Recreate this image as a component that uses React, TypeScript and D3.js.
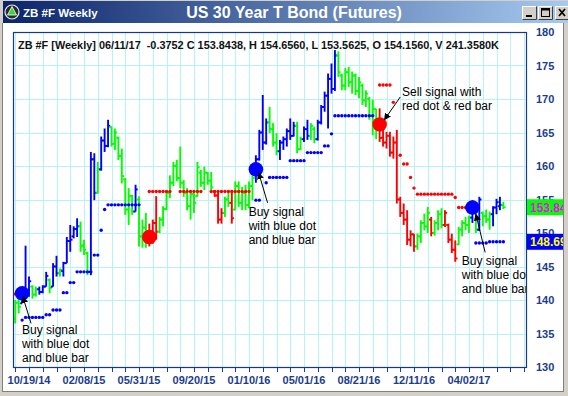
import React, { useEffect, useRef } from 'react';
import * as d3 from 'd3';

// weekly bars, first week 09/21/14, last week 06/11/17
const firstWeek = new Date(Date.UTC(2014, 8, 21));
const lastWeek = new Date(Date.UTC(2017, 5, 11));

const opens = [
  137.2, 139.6, 139.5, 141.2, 141.5, 142.0, 140.8, 141.6, 141.2, 142.0,
  143.0, 142.0, 145.0, 144.0, 144.3, 145.5, 148.8, 149.5, 150.6, 151.0,
  148.2, 147.0, 144.2, 161.0, 156.0, 159.5, 163.8, 163.0, 165.8, 163.3,
  164.2, 161.5, 158.0, 153.5, 155.5, 153.2, 155.0, 149.5, 150.8, 148.5,
  149.5, 151.5, 150.2, 152.0, 153.6, 156.0, 157.5, 160.0, 158.2, 157.5,
  156.0, 154.0, 155.8, 155.5, 159.0, 157.5, 159.0, 157.8, 156.2, 155.6,
  152.0, 153.0, 155.0, 154.5, 153.5, 157.0, 154.5, 156.0, 154.2, 157.0,
  158.9, 161.0, 165.0, 163.5, 166.5, 165.5, 163.5, 162.2, 163.5, 164.0,
  165.2, 164.5, 166.0, 162.5, 164.0, 165.5, 164.5, 165.5, 164.0, 166.5,
  168.8, 170.5, 173.0, 171.5, 176.5, 173.5, 172.0, 174.0, 172.5, 173.5,
  171.2, 172.0, 169.8, 170.0, 167.5, 168.5, 166.0, 164.2, 163.5, 164.5,
  162.0, 163.5, 155.0, 153.0, 152.0, 149.0, 149.8, 148.0, 149.5, 151.5,
  151.0, 152.0, 150.0, 151.5, 152.8, 151.2, 151.2, 149.0, 147.5, 148.3,
  150.5, 151.5, 151.2, 152.3, 153.2, 150.5, 153.0, 152.5, 152.0, 152.8,
  153.8, 154.0, 154.156,
];
const highs = [
  140.0, 140.5, 141.7, 148.1, 143.5, 142.2, 142.0, 142.0, 142.2, 144.2,
  143.2, 145.5, 146.6, 144.7, 145.7, 149.4, 151.2, 151.0, 152.2, 151.7,
  149.0, 147.2, 162.1, 161.9, 160.6, 164.4, 165.6, 166.9, 165.9, 165.6,
  164.4, 162.6, 158.2, 156.7, 155.7, 157.2, 155.5, 152.0, 153.0, 151.4,
  152.0, 155.5, 152.4, 154.0, 156.4, 158.6, 160.6, 160.9, 162.9, 157.9,
  156.7, 156.4, 155.9, 160.6, 159.4, 159.9, 159.1, 159.1, 156.4, 156.4,
  153.7, 155.4, 156.4, 156.4, 157.7, 157.7, 156.9, 157.2, 157.7, 158.6,
  161.6, 165.4, 170.6, 167.1, 168.8, 166.4, 164.9, 163.9, 164.4, 165.6,
  167.1, 166.6, 166.6, 164.4, 165.9, 166.9, 166.4, 165.9, 166.9, 169.1,
  171.1, 173.8, 175.3, 177.3, 177.1, 173.8, 174.6, 174.8, 174.1, 173.8,
  173.3, 172.3, 171.3, 170.3, 169.9, 168.5, 168.6, 165.4, 165.1, 165.1,
  164.4, 165.4, 155.4, 154.4, 153.4, 150.4, 149.9, 149.9, 151.9, 152.9,
  153.9, 152.4, 151.9, 153.4, 153.7, 153.4, 151.4, 149.9, 148.9, 150.9,
  151.9, 152.4, 152.6, 154.9, 153.5, 155.4, 153.2, 153.5, 153.2, 154.0,
  155.1, 155.4, 154.656,
];
const lows = [
  136.5, 138.0, 139.5, 140.2, 140.5, 140.2, 140.5, 140.8, 141.0, 142.0,
  141.0, 142.0, 143.5, 143.5, 143.5, 145.5, 147.2, 149.2, 149.4, 147.2,
  146.7, 143.7, 143.7, 154.9, 155.9, 159.3, 162.1, 162.8, 162.9, 162.4,
  160.9, 157.4, 152.7, 151.2, 152.7, 153.2, 148.0, 147.8, 147.8, 148.0,
  148.4, 149.0, 150.0, 151.0, 153.4, 155.2, 157.0, 157.7, 156.7, 155.4,
  153.4, 152.0, 153.0, 155.4, 156.9, 156.4, 157.2, 156.4, 155.4, 151.4,
  151.4, 152.4, 153.9, 151.4, 153.4, 153.9, 153.4, 153.4, 153.7, 154.9,
  157.5, 160.8, 162.4, 163.2, 164.9, 162.9, 161.6, 160.9, 162.4, 162.9,
  163.9, 164.4, 161.9, 162.4, 163.6, 163.9, 163.9, 163.4, 163.8, 166.2,
  168.1, 165.6, 170.8, 171.2, 173.3, 171.3, 171.3, 171.8, 170.8, 170.6,
  170.1, 169.1, 168.8, 166.9, 164.6, 164.0, 163.6, 162.9, 162.6, 161.4,
  161.1, 154.4, 152.4, 151.2, 148.2, 148.0, 147.2, 147.5, 148.5, 150.4,
  150.0, 149.5, 149.6, 150.4, 150.7, 150.9, 148.5, 147.0, 145.7, 148.2,
  149.5, 150.4, 150.0, 151.5, 150.0, 150.3, 151.0, 151.5, 150.5, 151.0,
  152.8, 153.4, 153.5625,
];
const closes = [
  139.6, 139.0, 141.2, 141.5, 142.8, 140.8, 141.6, 141.2, 142.0, 143.6,
  141.8, 145.0, 144.0, 144.5, 145.5, 148.8, 149.0, 150.6, 151.0, 148.0,
  147.5, 144.2, 161.0, 156.0, 159.5, 163.8, 163.0, 166.0, 163.3, 165.0,
  161.5, 158.5, 153.5, 155.5, 153.2, 156.5, 149.5, 150.8, 148.5, 149.5,
  151.5, 150.2, 152.0, 153.6, 156.0, 157.5, 160.0, 158.2, 157.5, 156.0,
  154.0, 155.8, 154.5, 159.8, 157.5, 159.0, 157.8, 156.8, 155.6, 152.0,
  153.0, 155.0, 154.5, 152.2, 157.0, 154.5, 156.0, 154.2, 157.0, 158.2,
  161.0, 165.0, 163.5, 166.5, 165.5, 163.5, 162.2, 163.5, 164.0, 165.2,
  164.5, 166.0, 162.5, 164.0, 165.5, 164.5, 166.0, 164.0, 166.5, 168.8,
  170.5, 173.0, 171.5, 176.5, 174.0, 172.0, 174.0, 172.5, 173.5, 171.2,
  172.5, 169.8, 170.8, 167.5, 168.5, 166.0, 164.2, 163.5, 164.5, 162.0,
  163.5, 155.0, 153.0, 152.0, 149.0, 149.8, 148.0, 149.5, 151.5, 151.0,
  153.0, 150.0, 151.5, 152.8, 151.2, 153.0, 149.0, 147.5, 146.2, 150.5,
  151.5, 151.2, 152.3, 154.5, 150.5, 155.0, 152.5, 152.0, 152.8, 153.8,
  154.6, 154.2, 153.8438,
];
// g = green, b = blue, r = red
const barColors = (
  'ggbbbggbbb' + 'gbbgbbbbbg' + 'ggbbgbbbgg' + 'gggggbgggr' + 'rrgggggggg' +
  'ggggggggrr' + 'rggrgggggg' + 'bbbbgggbbb' + 'bbggbbggbb' + 'bbbbgggggg' +
  'ggggggrrrr' + 'rrrrrrrggg' + 'grgggrrrrg' + 'gggbgbgggb' + 'bbg'
).split('');

// trailing stop dots
const stopValues = [
  140.9, null, 137.0, 137.4, 137.4, 137.4, 137.4, 137.4, 137.4, 137.8,
  137.8, 138.5, 138.5, 138.5, 141.1, 141.1, 142.6, 142.6, 144.2, 144.2,
  144.2, 144.2, 144.2, 146.7, 146.7, 150.4, 153.5, 154.2, 154.2, 154.2,
  154.2, 154.2, 154.2, 154.2, 154.2, 154.2, 154.2, null, null, 156.2,
  156.2, 156.2, 156.2, 156.2, 156.2, 156.2, null, null, 156.2, 156.2,
  156.2, 156.2, 156.2, 156.2, 156.2, null, null, 156.2, 156.2, 156.2,
  156.2, 156.2, 156.2, 156.2, 156.2, 156.2, 156.2, 156.2, 156.2, null,
  154.9, 154.9, null, 157.5, 158.3, 158.3, 158.3, 158.3, 158.3, 158.3,
  160.8, 160.8, 160.8, 160.8, 160.8, 162.0, 162.0, 162.0, 162.0, 162.0,
  163.0, 163.0, 164.8, 167.5, 167.5, 167.5, 167.5, 167.5, 167.5, 167.5,
  167.5, 167.5, 167.5, 167.5, 167.5, null, 172.1, 172.1, 172.1, 172.1,
  169.5, null, 161.6, 160.3, 160.3, 158.3, 156.7, 155.8, 155.8, 155.8,
  155.8, 155.8, 155.8, 155.8, 155.8, 155.8, 155.8, 155.8, 155.3, 153.8,
  153.8, 153.8, 153.8, null, 148.5, 148.5, 148.5, 148.5, 148.69, 148.69,
  148.69, 148.69, 148.69,
];
const stopColors = (
  'rbbbbbbbbb' + 'bbbbbbbbbb' + 'bbbbbbbbbb' + 'bbbbbbbbbr' + 'rrrrrrrrrr' +
  'rrrrrrrrrr' + 'rrrrrrrrrr' + 'bbbbbbbbbb' + 'bbbbbbbbbb' + 'bbbbbbbbbb' +
  'bbbbbrrrrr' + 'rrrrrrrrrr' + 'rrrrrrrrrr' + 'rrrbbbbbbb' + 'bbb'
).split('');

// big signal dots: bar index and price
const signalBars = [2, 39, 70, 106, 133];
const signalPrices = [141.0, 149.4, 159.5, 166.2, 153.8];
const signalTypes = ['b', 'r', 'b', 'r', 'b'];

// annotations: text anchor and arrow in (bar index, price)
const noteLines = [
  ['Buy signal', 'with blue dot', 'and blue bar'],
  ['Buy signal', 'with blue dot', 'and blue bar'],
  ['Sell signal with', 'red dot & red bar'],
  ['Buy signal', 'with blue dot', 'and blue bar'],
];
const noteAnchors = [[1.95, 134.9], [67.9, 152.6], [112.5, 170.4], [129.9, 145.2]];
const noteArrowFrom = [[4.6, 136.5], [73.4, 154.5], [112.0, 170.3], [136.7, 147.1]];
const noteArrowTo = [[2.2, 140.5], [70.8, 159.0], [107.4, 166.9], [134.0, 152.8]];

const yTicks = [130, 135, 140, 145, 150, 155, 160, 165, 170, 175, 180];
const changeText = '-0.3752';
const volumeText = '241.3580K';

const colorMap = { g: '#00ff00', b: '#0000ff', r: '#ff0000' };
const FONT = '"Liberation Sans", Arial, sans-serif';

const Chart = () => {
  const svgRef = useRef(null);

  useEffect(() => {
    const svg = d3.select(svgRef.current);
    svg.selectAll('*').remove();
    const width = 568;
    const height = 396;
    svg.attr('width', width).attr('height', height);

    const plot = { left: 13, right: 526, top: 32, bottom: 367 };
    const weeks = d3.utcWeek.range(firstWeek, d3.utcWeek.offset(lastWeek, 1));

    // x: 10/19/14 .. 04/02/17 span 128 weeks
    const xScale = d3.scaleUtc()
      .domain([new Date(Date.UTC(2014, 9, 19)), new Date(Date.UTC(2017, 3, 2))])
      .range([29, 469]);
    const yScale = d3.scaleLinear().domain([130, 180]).range([plot.bottom, plot.top]);
    const xIdx = (i) => xScale(weeks[0]) + (xScale(weeks[1]) - xScale(weeks[0])) * i;

    const defs = svg.append('defs');
    const grad = defs.append('linearGradient').attr('id', 'titleGrad');
    grad.append('stop').attr('offset', '0%').attr('stop-color', '#0a246a');
    grad.append('stop').attr('offset', '100%').attr('stop-color', '#a6caf0');
    defs.append('clipPath').attr('id', 'plotClip')
      .append('rect')
      .attr('x', plot.left).attr('y', plot.top)
      .attr('width', plot.right - plot.left).attr('height', plot.bottom - plot.top);
    defs.append('marker')
      .attr('id', 'arrowHead')
      .attr('viewBox', '0 0 10 10')
      .attr('refX', 9).attr('refY', 5)
      .attr('markerWidth', 7).attr('markerHeight', 7)
      .attr('markerUnits', 'userSpaceOnUse')
      .attr('orient', 'auto')
      .append('path').attr('d', 'M0,0 L10,5 L0,10 z').attr('fill', '#000');

    // window frame
    svg.append('rect').attr('width', width).attr('height', height).attr('fill', '#d4d0c8');
    svg.append('rect').attr('x', 3).attr('y', 23).attr('width', 560).attr('height', 368)
      .attr('fill', '#fff');
    svg.append('line').attr('x1', 2.5).attr('x2', 2.5).attr('y1', 23).attr('y2', 392)
      .attr('stroke', '#808080');
    svg.append('line').attr('x1', 2.5).attr('x2', 564).attr('y1', 391.5).attr('y2', 391.5)
      .attr('stroke', '#808080');

    // title bar
    svg.append('rect').attr('x', 3).attr('y', 1).attr('width', 565).attr('height', 22)
      .attr('fill', 'url(#titleGrad)');
    svg.append('circle').attr('cx', 12).attr('cy', 12).attr('r', 7)
      .attr('fill', '#2b2b2b').attr('stroke', '#e8e8e8').attr('stroke-width', 1.2);
    svg.append('path').attr('d', 'M12,6.5 L16.5,15 L7.5,15 z').attr('fill', '#3fd23f')
      .attr('stroke', '#fff').attr('stroke-width', 0.8);
    svg.append('text').attr('x', 23).attr('y', 16.5).attr('fill', '#fff')
      .attr('font-family', FONT).attr('font-weight', 'bold').attr('font-size', 11.5)
      .text('ZB #F Weekly');
    svg.append('text').attr('x', 294).attr('y', 18).attr('fill', '#fff')
      .attr('text-anchor', 'middle')
      .attr('font-family', FONT).attr('font-weight', 'bold').attr('font-size', 16)
      .text('US 30 Year T Bond (Futures)');

    const buttons = [522, 538, 555];
    buttons.forEach((bx, k) => {
      const g = svg.append('g').attr('transform', `translate(${bx},6)`);
      g.append('rect').attr('width', 15).attr('height', 14).attr('fill', '#d4d0c8');
      g.append('path').attr('d', 'M0.5,13.5 V0.5 H14.5').attr('fill', 'none').attr('stroke', '#fff');
      g.append('path').attr('d', 'M0.5,13.5 H14.5 V0.5').attr('fill', 'none').attr('stroke', '#404040');
      if (k === 0) g.append('rect').attr('x', 4).attr('y', 9).attr('width', 6).attr('height', 2).attr('fill', '#000');
      if (k === 1) {
        g.append('rect').attr('x', 3.5).attr('y', 2.5).attr('width', 8).attr('height', 8)
          .attr('fill', 'none').attr('stroke', '#000');
        g.append('rect').attr('x', 3.5).attr('y', 2.5).attr('width', 8).attr('height', 2).attr('fill', '#000');
      }
      if (k === 2) {
        g.append('path').attr('d', 'M4,3 L10,10 M10,3 L4,10').attr('stroke', '#000').attr('stroke-width', 1.8);
      }
    });

    // grid
    const gridDates = d3.utcWeek.range(firstWeek, xScale.invert(plot.right + 1), 4);
    svg.append('g').selectAll('line')
      .data(gridDates)
      .join('line')
      .attr('x1', d => Math.round(xScale(d)) + 0.5).attr('x2', d => Math.round(xScale(d)) + 0.5)
      .attr('y1', plot.top).attr('y2', plot.bottom)
      .attr('stroke', '#b4f4f4').attr('stroke-width', 1);
    svg.append('g').selectAll('line')
      .data(yTicks.slice(1, -1))
      .join('line')
      .attr('x1', plot.left).attr('x2', plot.right)
      .attr('y1', d => Math.round(yScale(d)) + 0.5).attr('y2', d => Math.round(yScale(d)) + 0.5)
      .attr('stroke', '#b4f4f4').attr('stroke-width', 1);

    const chart = svg.append('g').attr('clip-path', 'url(#plotClip)');

    // OHLC bars
    const bars = chart.append('g');
    weeks.forEach((w, i) => {
      if (i >= highs.length) return;
      const x = xScale(w);
      const c = colorMap[barColors[i]];
      bars.append('line').attr('x1', x).attr('x2', x)
        .attr('y1', yScale(highs[i])).attr('y2', yScale(lows[i]))
        .attr('stroke', c).attr('stroke-width', 1.9);
      bars.append('line').attr('x1', x - 2.2).attr('x2', x)
        .attr('y1', yScale(opens[i])).attr('y2', yScale(opens[i]))
        .attr('stroke', c).attr('stroke-width', 1.9);
      bars.append('line').attr('x1', x).attr('x2', x + 2.2)
        .attr('y1', yScale(closes[i])).attr('y2', yScale(closes[i]))
        .attr('stroke', c).attr('stroke-width', 1.9);
    });

    // stop dots
    chart.append('g').selectAll('circle')
      .data(stopValues.map((v, i) => ({ v, i })).filter(d => d.v != null))
      .join('circle')
      .attr('cx', d => xScale(weeks[d.i]))
      .attr('cy', d => yScale(d.v))
      .attr('r', 1.7)
      .attr('fill', d => colorMap[stopColors[d.i]]);

    // signal dots
    chart.append('g').selectAll('circle')
      .data(signalBars)
      .join('circle')
      .attr('cx', d => xScale(weeks[d]))
      .attr('cy', (d, k) => yScale(signalPrices[k]))
      .attr('r', 7.3)
      .attr('fill', (d, k) => colorMap[signalTypes[k]]);

    // annotations
    const notes = chart.append('g').attr('font-family', FONT).attr('font-size', 12).attr('fill', '#000');
    noteLines.forEach((lines, k) => {
      const [ai, ap] = noteAnchors[k];
      const tx = xIdx(ai);
      const ty = yScale(ap);
      lines.forEach((ln, j) => {
        notes.append('text').attr('x', tx).attr('y', ty + j * 14).text(ln);
      });
      notes.append('line')
        .attr('x1', xIdx(noteArrowFrom[k][0])).attr('y1', yScale(noteArrowFrom[k][1]))
        .attr('x2', xIdx(noteArrowTo[k][0])).attr('y2', yScale(noteArrowTo[k][1]))
        .attr('stroke', '#000').attr('stroke-width', 1)
        .attr('marker-end', 'url(#arrowHead)');
    });

    // header line
    const last = highs.length - 1;
    const f4 = d3.format('.4f');
    const dateFmt = d3.utcFormat('%m/%d/%y');
    svg.append('text')
      .attr('x', 18).attr('y', 49)
      .attr('font-family', FONT).attr('font-size', 10.9).attr('font-weight', 'bold')
      .attr('fill', '#111')
      .style('white-space', 'pre')
      .text(`ZB #F [Weekly] ${dateFmt(weeks[last])}  ${changeText} C ${f4(closes[last])}, H ${f4(highs[last])}, L ${f4(lows[last])}, O ${f4(opens[last])}, V ${volumeText}`);

    // plot border
    svg.append('rect')
      .attr('x', plot.left + 0.5).attr('y', plot.top + 0.5)
      .attr('width', plot.right - plot.left).attr('height', plot.bottom - plot.top)
      .attr('fill', 'none').attr('stroke', '#14398a').attr('stroke-width', 1.2);

    // x axis ticks and labels
    const axisColor = '#1c3c8c';
    svg.append('g').selectAll('line')
      .data(gridDates)
      .join('line')
      .attr('x1', d => Math.round(xScale(d)) + 0.5).attr('x2', d => Math.round(xScale(d)) + 0.5)
      .attr('y1', plot.bottom).attr('y2', plot.bottom + 5)
      .attr('stroke', axisColor);
    svg.append('g').selectAll('text')
      .data(gridDates.filter((d, k) => k % 4 === 1 && xScale(d) < plot.right - 30))
      .join('text')
      .attr('x', d => xScale(d)).attr('y', 384)
      .attr('text-anchor', 'middle')
      .attr('font-family', FONT).attr('font-size', 11).attr('font-weight', 'bold')
      .attr('fill', axisColor)
      .text(d => dateFmt(d));

    // y axis labels
    svg.append('g').selectAll('text')
      .data(yTicks)
      .join('text')
      .attr('x', 536).attr('y', d => yScale(d) + 4)
      .attr('font-family', FONT).attr('font-size', 11).attr('font-weight', 'bold')
      .attr('fill', axisColor)
      .text(d => d);

    // last value boxes
    const boxes = [
      { v: closes[last], bg: '#00ff00', fg: '#ff00ff' },
      { v: stopValues[last], bg: '#0000ff', fg: '#ffff00' },
    ];
    boxes.forEach(b => {
      const cy = yScale(b.v);
      svg.append('rect').attr('x', 527).attr('y', cy - 8).attr('width', 40).attr('height', 16)
        .attr('fill', b.bg);
      svg.append('text').attr('x', 530).attr('y', cy + 4.5)
        .attr('font-family', FONT).attr('font-size', 12).attr('font-weight', 'bold')
        .attr('fill', b.fg).text(d3.format('.2f')(b.v));
    });

    // right window edge
    svg.append('rect').attr('x', 563).attr('y', 23).attr('width', 5).attr('height', 373).attr('fill', '#d4d0c8');
    svg.append('line').attr('x1', 563.5).attr('x2', 563.5).attr('y1', 23).attr('y2', 392).attr('stroke', '#808080');
  }, []);

  return <svg ref={svgRef} style={{ display: 'block' }}></svg>;
};

export default function App() {
  return (
    <div style={{ position: 'fixed', left: 0, top: 0 }}>
      <Chart />
    </div>
  );
}
